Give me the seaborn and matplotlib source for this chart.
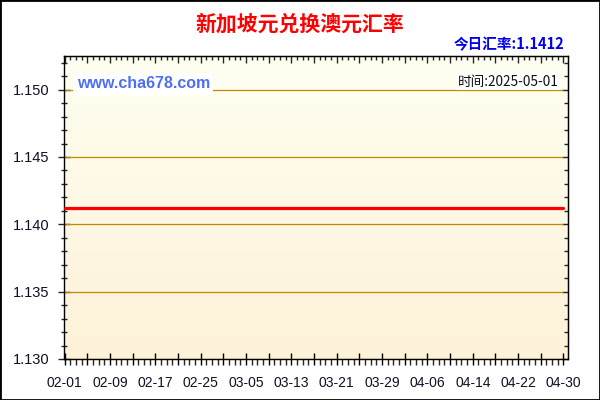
import numpy as np
import pandas as pd
import matplotlib
matplotlib.use('Agg')
import matplotlib.pyplot as plt
import matplotlib.dates as mdates
from matplotlib.patches import Rectangle
import seaborn as sns

# data: SGD -> AUD, flat at 1.1412 over Feb-Apr 2025
dates = pd.date_range('2025-02-01', '2025-04-30', freq='D')
rates = [1.1412] * len(dates)
y_ticks = [1.130, 1.135, 1.140, 1.145, 1.150]
title = '新加坡元兑换澳元汇率'
today_text = '今日汇率:1.1412'
site_text = 'www.cha678.com'
time_text = '时间:2025-05-01'

sns.set_style('ticks')
plt.rcParams['font.family'] = ['Liberation Sans', 'Noto Sans CJK SC', 'DejaVu Sans']

fig = plt.figure(figsize=(6, 4), dpi=100)
ax = fig.add_axes([0.1067, 0.1025, 0.84, 0.7575])

# pale yellow gradient background
grad = np.linspace(0, 1, 256).reshape(-1, 1)
top_c = np.array([255, 255, 242]) / 255
bot_c = np.array([253, 241, 216]) / 255
img = top_c + (bot_c - top_c) * grad
ax.imshow(img[:, None, :].repeat(2, axis=1), extent=[0, 1, 0, 1],
          transform=ax.transAxes, aspect='auto', zorder=0)

# grid lines over the data span only
ax.hlines(y_ticks, dates[0], dates[-1], colors='#bf8a00', linewidth=0.9, zorder=1)

sns.lineplot(x=dates, y=rates, color='red', linewidth=2.3, ax=ax, zorder=3)

x0 = mdates.date2num(dates[0])
x1 = mdates.date2num(dates[-1])
ax.set_xlim(x0 - 0.1, x1 + 0.8)
ax.set_ylim(1.130, 1.1525)

# x ticks: long every 4 days, labels every 8, minor every day
major_x = dates[::4]
ax.set_xticks(major_x)
ax.set_xticklabels([d.strftime('%m-%d') if i % 2 == 0 else '' for i, d in enumerate(major_x)])
ax.set_xticks(dates, minor=True)
ax.set_yticks(y_ticks)
ax.set_yticklabels([f'{v:.3f}' for v in y_ticks])
ax.set_yticks(np.arange(1.130, 1.1526, 0.001), minor=True)

ax.tick_params(axis='x', which='major', direction='inout', length=8, width=1,
               pad=8, labelsize=10, colors='black', labelcolor='#101028')
ax.tick_params(axis='x', which='minor', direction='out', length=4, width=1)
ax.tick_params(axis='y', which='major', direction='inout', length=9, width=1,
               pad=6, labelsize=10.5, labelcolor='#101028')
ax.tick_params(axis='y', which='minor', direction='inout', length=5, width=1)
ax.set_xlabel('')
ax.set_ylabel('')

# inner ticks on the top and right spines
sec_x = ax.secondary_xaxis('top')
sec_x.set_xticks(major_x)
sec_x.set_xticks(dates, minor=True)
sec_x.set_xticklabels([])
sec_x.tick_params(which='major', direction='in', length=5, width=1)
sec_x.tick_params(which='minor', direction='in', length=3, width=1)
sec_y = ax.secondary_yaxis('right')
sec_y.set_yticks(y_ticks)
sec_y.set_yticks(np.arange(1.130, 1.1526, 0.001), minor=True)
sec_y.set_yticklabels([])
sec_y.tick_params(which='major', direction='in', length=4, width=1)
sec_y.tick_params(which='minor', direction='in', length=3, width=1)

for s in ax.spines.values():
    s.set_color('black')
    s.set_linewidth(1)

ax.text(0.025, 0.908, site_text, transform=ax.transAxes, color='#4f6ff2',
        fontsize=11.5, fontweight='bold', va='center', ha='left', zorder=4,
        bbox=dict(facecolor='white', edgecolor='none', pad=2.5))
ax.text(0.982, 0.915, time_text, transform=ax.transAxes, color='#101010',
        fontsize=9.8, va='center', ha='right', zorder=4,
        family=['Noto Sans CJK SC', 'DejaVu Sans'],
        bbox=dict(facecolor='white', edgecolor='none', pad=1.0))

fig.text(0.5, 0.94, title, color='#ff0000', fontsize=15, fontweight='bold',
         ha='center', va='center', family=['Noto Sans CJK SC', 'DejaVu Sans'])
fig.text(0.94, 0.89, today_text, color='#0000ee', fontsize=10.5, fontweight='bold',
         ha='right', va='center', family=['Noto Sans CJK SC', 'DejaVu Sans'])

fig.patches.append(Rectangle((0, 0), 1, 1, transform=fig.transFigure,
                             fill=False, edgecolor='black', linewidth=2))

fig.savefig('out.png', dpi=100, facecolor='white')
